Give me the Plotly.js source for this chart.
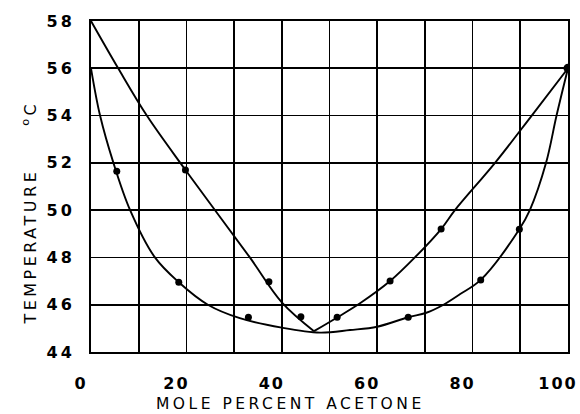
<!DOCTYPE html>
<html>
<head>
<meta charset="utf-8">
<script src="https://cdn.plot.ly/plotly-3.0.1.min.js"></script>
<style>
html, body { margin: 0; padding: 0; background: #fff; }
#chart { width: 580px; height: 414px; }
.xtick text { letter-spacing: 2px; }
.ytick text { letter-spacing: 3px; }
.annotation-text { letter-spacing: 3.5px; }
</style>
</head>
<body>
<div id="chart"></div>
<script>
// Vapor (dew-point) curve, left and right branches meeting at the azeotrope
const vaporLeftX  = [0, 5.7, 11.7, 19.8, 33.3, 40.0, 46.75];
const vaporLeftY  = [58, 56, 54, 51.7, 48, 46.1, 44.88];
const vaporRightX = [46.75, 51.6, 56.4, 62.7, 67.9, 73.4, 76.3, 84.7, 92.4, 100];
const vaporRightY = [44.88, 45.46, 46.06, 47.0, 48.0, 49.2, 50.0, 52.0, 54.0, 56.0];

// Liquid (bubble-point) curve
const liquidX = [0, 1.9, 4.7, 8.2, 13.4, 18.4, 24.5, 31.2, 40.0, 48.0, 54.3, 60.0, 66.5, 70.3, 73.9, 77.4, 81.7, 89.8, 92.0, 95.4, 97.6, 100];
const liquidY = [56, 54, 52, 50, 48, 46.95, 46.0, 45.43, 45.03, 44.82, 44.93, 45.07, 45.47, 45.66, 46.0, 46.45, 47.05, 49.19, 50.0, 52.0, 54.0, 56.0];

// Measured points
const vaporPtsX  = [19.8, 37.3, 44.0, 51.6, 62.7, 73.4];
const vaporPtsY  = [51.7, 46.97, 45.49, 45.47, 47.0, 49.2];
const liquidPtsX = [5.4, 18.4, 33.0, 66.5, 81.7, 89.8];
const liquidPtsY = [51.65, 46.95, 45.47, 45.47, 47.05, 49.19];
const purePtsX   = [100];
const purePtsY   = [56];

const xTickVals = [0, 20, 40, 60, 80, 100];
const yTickVals = [44, 46, 48, 50, 52, 54, 56, 58];
const xTitle = "MOLE PERCENT ACETONE";
const yTitle = "TEMPERATURE\u00A0\u00A0\u00A0\u00A0\u00A0<sup>o</sup>C";

const lineStyle = {color: '#000', width: 1.9, shape: 'spline', smoothing: 1};
const markerStyle = {color: '#000', size: 7, symbol: 'circle'};

const traces = [
  {x: vaporLeftX, y: vaporLeftY, mode: 'lines', line: lineStyle, hoverinfo: 'skip'},
  {x: vaporRightX, y: vaporRightY, mode: 'lines', line: lineStyle, hoverinfo: 'skip'},
  {x: liquidX, y: liquidY, mode: 'lines', line: lineStyle, hoverinfo: 'skip'},
  {x: vaporPtsX, y: vaporPtsY, mode: 'markers', marker: markerStyle},
  {x: liquidPtsX, y: liquidPtsY, mode: 'markers', marker: markerStyle},
  {x: purePtsX, y: purePtsY, mode: 'markers', marker: {color: '#000', size: 9}}
];

const tickFont = {family: 'DejaVu Sans', size: 16, color: '#000', weight: 'bold'};
const gridW = 1.6;

const layout = {
  width: 580, height: 414,
  margin: {l: 91, r: 12, t: 21, b: 62, pad: 0},
  paper_bgcolor: '#fff', plot_bgcolor: '#fff',
  showlegend: false,
  xaxis: {
    range: [0, 100], tickvals: xTickVals, ticks: '',
    showgrid: true, gridcolor: '#000', gridwidth: gridW,
    minor: {dtick: 10, showgrid: true, gridcolor: '#000', gridwidth: gridW, ticks: ''},
    showline: true, mirror: true, linecolor: '#000', linewidth: 2,
    zeroline: false, tickfont: tickFont,
    ticklabelshift: -10, ticklabelstandoff: 16, fixedrange: true
  },
  yaxis: {
    range: [44, 58], tickvals: yTickVals, ticks: '',
    showgrid: true, gridcolor: '#000', gridwidth: gridW,
    showline: true, mirror: true, linecolor: '#000', linewidth: 2,
    zeroline: false, tickfont: tickFont,
    ticklabelstandoff: 11, fixedrange: true
  },
  annotations: [
    {text: xTitle, xref: 'paper', yref: 'paper', x: 0.419, y: -0.158,
     xanchor: 'center', yanchor: 'middle', showarrow: false,
     font: {family: 'DejaVu Sans', size: 15.5, color: '#000'}},
    {text: yTitle, xref: 'paper', yref: 'paper', x: -0.128, y: 0.421,
     xanchor: 'center', yanchor: 'middle', showarrow: false, textangle: -90,
     font: {family: 'DejaVu Sans', size: 16, color: '#000'}}
  ]
};

Plotly.newPlot('chart', traces, layout, {displayModeBar: false, staticPlot: true});
</script>
</body>
</html>
